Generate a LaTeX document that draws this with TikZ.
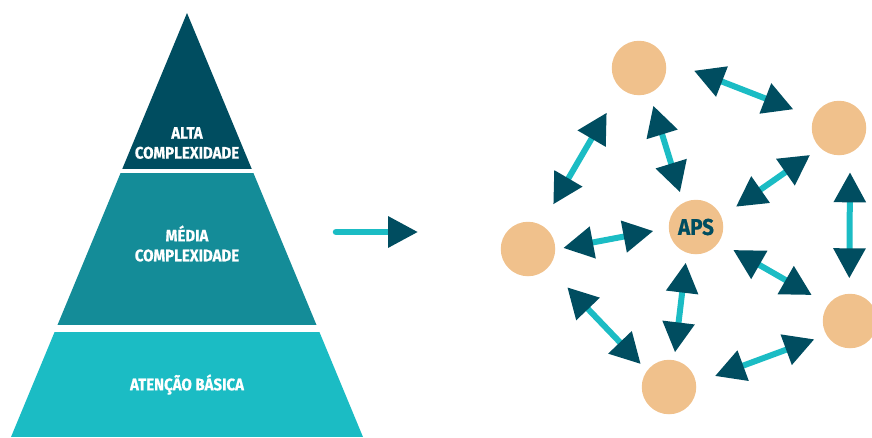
\documentclass[tikz,border=0pt]{standalone}
\usepackage{fontspec}
\newfontfamily\condfont[FakeStretch=0.9, UprightFont=* Bold, FakeBold=0.6]{Fira Sans}
\definecolor{DarkTeal}{RGB}{0,77,96}
\definecolor{MidTeal}{RGB}{20,140,152}
\definecolor{LightTeal}{RGB}{27,188,196}
\definecolor{Peach}{RGB}{240,193,140}
\usepackage{tikz}
\usetikzlibrary{arrows.meta, positioning, calc}
\tikzstyle{bubble} = [circle, fill=Peach, minimum size=1.09cm, inner sep=0pt, text=DarkTeal]
\tikzstyle{link} = [line width=0.12cm, LightTeal, {Triangle[length=0.6cm, width=0.62cm, color=DarkTeal]}-{Triangle[length=0.6cm, width=0.62cm, color=DarkTeal]}]
\tikzstyle{level} = [text=white, align=center, font=\condfont\fontsize{9.5}{11.3}\selectfont]

\begin{document}
\begin{tikzpicture}[x=0.02cm, y=-0.02cm]
                \useasboundingbox (0,0) rectangle (872,437);
                
                % pyramid
                \begin{scope}
                \clip (187,13) -- (363,437) -- (11,437) -- cycle;
                \fill[DarkTeal] (0,0) rectangle (380,168.5);
                \fill[MidTeal] (0,172.7) rectangle (380,325.3);
                \fill[LightTeal] (0,331.5) rectangle (380,437);
                \end{scope}
                \node[level] (alta) at (187,143) {ALTA\\COMPLEXIDADE};
                \node[level] (media) at (187,243.5) {MÉDIA\\COMPLEXIDADE};
                \node[level] (basica) at (187,384.5) {ATENÇÃO BÁSICA};
                
                % arrow between the two halves
                \coordinate (arrS) at (336,232);
                \coordinate (arrE) at (418,232);
                \draw[line width=0.13cm, LightTeal, line cap=round, -{Triangle[length=0.6cm, width=0.6cm, color=DarkTeal]}] (arrS) -- (arrE);
                
                % network
                \node[bubble] (top) at (639,68) {};
                \node[bubble] (rtop) at (839,128) {};
                \node[bubble] (left) at (528,249) {};
                \node[bubble, font=\condfont\fontsize{13}{14}\selectfont] (aps) at (696,227) {APS};
                \node[bubble] (rbot) at (850,321) {};
                \node[bubble] (bot) at (669,387) {};
                
                \foreach \n/\a/\b in {1/{694,70.7}/{793.3,109.3}, 2/{606.7,112.7}/{553.3,204.3},
                                      3/{653.3,105.7}/{680,192.3}, 4/{736,206.7}/{810,155},
                                      5/{850,172.3}/{849.3,278.3}, 6/{563.3,248}/{653.3,231},
                                      7/{733.3,250}/{811.7,295}, 8/{685.7,262.7}/{675,352.3},
                                      9/{567.3,287.3}/{640.7,364}, 10/{715,376}/{814.3,339.3}}{
                    \coordinate (t\n a) at (\a);
                    \coordinate (t\n b) at (\b);
                    \draw[link] (t\n a) -- (t\n b);
                }
            \end{tikzpicture}
\end{document}
